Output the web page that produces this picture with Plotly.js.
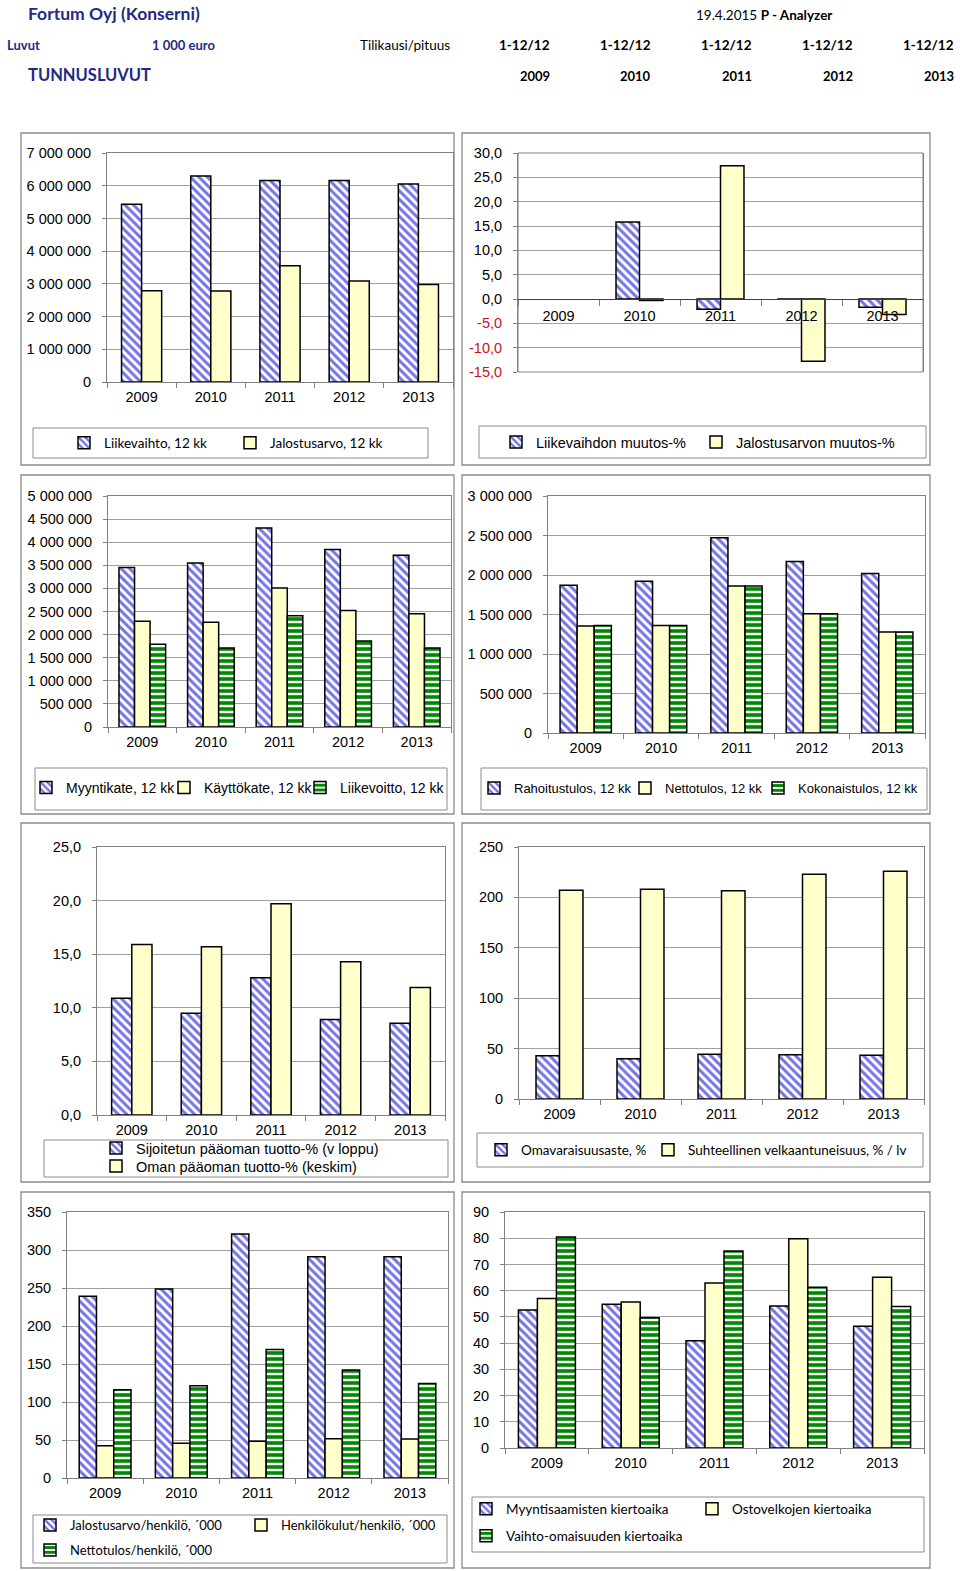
<!DOCTYPE html>
<html>
<head>
<meta charset="utf-8">
<script src="https://cdn.plot.ly/plotly-3.0.1.min.js"></script>
<style>html,body{margin:0;padding:0;background:#fff;}#chart{width:960px;height:1571px;}</style>
</head>
<body>
<div id="chart"></div>
<script>
// ---------------- DATA ----------------
const years = ['2009', '2010', '2011', '2012', '2013'];
const periodLabels = ['1-12/12', '1-12/12', '1-12/12', '1-12/12', '1-12/12'];

const liikevaihto = [5435000, 6296000, 6161000, 6159000, 6056000];
const jalostusarvo = [2790000, 2780000, 3550000, 3090000, 2980000];

const liikevaihtoMuutos = [null, 15.8, -2.1, -0.03, -1.7];
const jalostusarvoMuutos = [null, -0.3, 27.4, -12.8, -3.2];

const myyntikate = [3450000, 3550000, 4310000, 3840000, 3720000];
const kayttokate = [2290000, 2270000, 3010000, 2520000, 2450000];
const liikevoitto = [1790000, 1710000, 2410000, 1860000, 1710000];

const rahoitustulos = [1870000, 1920000, 2470000, 2170000, 2020000];
const nettotulos = [1355000, 1360000, 1860000, 1510000, 1280000];
const kokonaistulos = [1360000, 1360000, 1860000, 1510000, 1280000];

const sijPaaomanTuotto = [10.9, 9.5, 12.8, 8.9, 8.55];
const omanPaaomanTuotto = [15.9, 15.7, 19.7, 14.3, 11.9];

const omavaraisuusaste = [42.9, 39.9, 44.5, 43.9, 43.5];
const suhtVelkaantuneisuus = [207, 208, 206.5, 223, 226];

const jalostusarvoHenkilo = [239, 248.7, 321, 291, 291];
const henkilokulutHenkilo = [42.5, 45.6, 48.2, 51.8, 51.3];
const nettotulosHenkilo = [116, 121.5, 169, 142, 124.5];

const myyntisaamistenKiertoaika = [52.6, 54.8, 40.9, 54.2, 46.4];
const ostovelkojenKiertoaika = [57, 55.7, 62.9, 79.8, 65.1];
const vaihtoOmaisuudenKiertoaika = [80.5, 49.7, 75.1, 61.3, 54];

const p2TickVals = [-15, -10, -5, 0, 5, 10, 15, 20, 25, 30];
const p2TickText = ['-15,0', '-10,0', '-5,0', '0,0', '5,0', '10,0', '15,0', '20,0', '25,0', '30,0'];

// ---------------- STYLE / LAYOUT HELPERS ----------------
const W = 960, H = 1571;
const fx = p => p / W;
const fy = p => 1 - p / H;
const ARIAL = 'Liberation Sans, Arial, sans-serif';
const CALIBRI = 'Lato, Carlito, Calibri, sans-serif';
const NAVY = '#1e2a86';
const GRID = '#a0a0a0';
const AXL = '#808080';
const FRAME = '#8c8c8c';

const STYLES = {
  blue: {color: '#ffffff', pattern: {shape: '\\', fgcolor: '#7474e6', bgcolor: '#ffffff', size: 6, solidity: 0.5, fillmode: 'replace'}},
  yellow: {color: '#ffffcc'},
  green: {color: '#ffffff', pattern: {shape: '-', fgcolor: '#008800', bgcolor: '#ffffff', size: 6, solidity: 0.6, fillmode: 'replace'}}
};

// panels: plot area px, range, tick step, format, series list, legend layout
const panels = [
  {plot: [107, 453, 153, 382], frame: [21, 454, 133, 465], lbox: [33, 428, 428, 458],
   range: [0, 7000000], dtick: 1000000, fmt: ',d', group: 0.58,
   series: [['Liikevaihto, 12 kk', liikevaihto, 'blue'], ['Jalostusarvo, 12 kk', jalostusarvo, 'yellow']],
   leg: {font: CALIBRI, size: 13.5, pos: [[84, 443], [250, 443]]}},
  {plot: [518, 923, 153, 372], frame: [462, 930, 133, 465], lbox: [479, 926, 426, 458],
   range: [-15, 30], dtick: 5, fmt: '.1f', group: 0.58, special: true,
   series: [['Liikevaihdon muutos-%', liikevaihtoMuutos, 'blue'], ['Jalostusarvon muutos-%', jalostusarvoMuutos, 'yellow']],
   leg: {font: ARIAL, size: 14.5, pos: [[516, 442], [716, 442]]}},
  {plot: [108, 451, 496, 727], frame: [21, 454, 475, 814], lbox: [35, 447, 768, 810],
   range: [0, 5000000], dtick: 500000, fmt: ',d', group: 0.68,
   series: [['Myyntikate, 12 kk', myyntikate, 'blue'], ['Käyttökate, 12 kk', kayttokate, 'yellow'], ['Liikevoitto, 12 kk', liikevoitto, 'green']],
   leg: {font: ARIAL, size: 14, pos: [[46, 788], [184, 788], [320, 788]]}},
  {plot: [548, 925, 496, 733], frame: [462, 930, 475, 814], lbox: [481, 927, 768, 810],
   range: [0, 3000000], dtick: 500000, fmt: ',d', group: 0.68,
   series: [['Rahoitustulos, 12 kk', rahoitustulos, 'blue'], ['Nettotulos, 12 kk', nettotulos, 'yellow'], ['Kokonaistulos, 12 kk', kokonaistulos, 'green']],
   leg: {font: ARIAL, size: 13, pos: [[494, 788], [645, 788], [778, 788]]}},
  {plot: [97, 445, 847, 1115], frame: [21, 454, 823, 1182], lbox: [44, 448, 1140, 1177],
   range: [0, 25], dtick: 5, fmt: '.1f', group: 0.58,
   series: [['Sijoitetun pääoman tuotto-% (v loppu)', sijPaaomanTuotto, 'blue'], ['Oman pääoman tuotto-% (keskim)', omanPaaomanTuotto, 'yellow']],
   leg: {font: ARIAL, size: 14.5, pos: [[116, 1148], [116, 1166]]}},
  {plot: [519, 924, 847, 1099], frame: [462, 930, 823, 1182], lbox: [477, 923, 1133, 1167],
   range: [0, 250], dtick: 50, fmt: 'd', group: 0.58,
   series: [['Omavaraisuusaste, %', omavaraisuusaste, 'blue'], ['Suhteellinen velkaantuneisuus, % / lv', suhtVelkaantuneisuus, 'yellow']],
   leg: {font: CALIBRI, size: 13.5, pos: [[501, 1150], [668, 1150]]}},
  {plot: [67, 448, 1212, 1478], frame: [21, 454, 1192, 1568], lbox: [33, 447, 1515, 1563],
   range: [0, 350], dtick: 50, fmt: 'd', group: 0.68,
   series: [['Jalostusarvo/henkilö, ´000', jalostusarvoHenkilo, 'blue'], ['Henkilökulut/henkilö, ´000', henkilokulutHenkilo, 'yellow'], ['Nettotulos/henkilö, ´000', nettotulosHenkilo, 'green']],
   leg: {font: CALIBRI, size: 13, pos: [[50, 1525], [261, 1525], [50, 1550]]}},
  {plot: [505, 924, 1212, 1448], frame: [462, 930, 1192, 1568], lbox: [472, 924, 1497, 1552],
   range: [0, 90], dtick: 10, fmt: 'd', group: 0.68,
   series: [['Myyntisaamisten kiertoaika', myyntisaamistenKiertoaika, 'blue'], ['Ostovelkojen kiertoaika', ostovelkojenKiertoaika, 'yellow'], ['Vaihto-omaisuuden kiertoaika', vaihtoOmaisuudenKiertoaika, 'green']],
   leg: {font: CALIBRI, size: 13.5, pos: [[486, 1509], [712, 1509], [486, 1536]]}}
];

const traces = [];
const layout = {
  width: W, height: H, autosize: false,
  margin: {l: 0, r: 0, t: 0, b: 0},
  paper_bgcolor: '#ffffff', plot_bgcolor: 'rgba(0,0,0,0)',
  separators: ', ',
  showlegend: true,
  barmode: 'group',
  shapes: [], annotations: []
};

let legendCount = 0;
panels.forEach((p, i) => {
  const n = i + 1;
  const sfx = n === 1 ? '' : String(n);
  const xid = 'x' + sfx, yid = 'y' + sfx;
  const [l, r, t, b] = p.plot;
  const tickFont = {family: ARIAL, size: 14.5, color: '#000'};

  const xa = {
    domain: [fx(l), fx(r)], anchor: yid, type: 'category', range: [-0.5, 4.5],
    tickson: 'boundaries', ticks: 'outside', ticklen: 5, tickcolor: AXL, tickwidth: 1,
    showline: true, linecolor: AXL, linewidth: 1, mirror: true, showgrid: false,
    tickfont: tickFont, fixedrange: true, ticklabelstandoff: 2
  };
  const ya = {
    domain: [fy(b), fy(t)], anchor: xid, range: p.range, dtick: p.dtick, tick0: 0,
    tickformat: p.fmt, showgrid: true, gridcolor: GRID, gridwidth: 1, zeroline: false,
    showline: true, mirror: true, linecolor: AXL, linewidth: 1,
    ticks: 'outside', ticklen: 4, tickcolor: AXL, tickfont: tickFont,
    ticklabelstandoff: 8, fixedrange: true
  };
  if (p.special) {
    const frac = (0 - p.range[0]) / (p.range[1] - p.range[0]);
    xa.anchor = 'free';
    xa.position = fy(b) + frac * (fy(t) - fy(b));
    xa.mirror = false;
    xa.linecolor = '#404040';
    xa.ticklen = 6;
    xa.ticklabelstandoff = 4;
    ya.tickmode = 'array';
    ya.tickvals = p2TickVals;
    ya.ticktext = p2TickText.map((s, k) => p2TickVals[k] < 0 ? '<span style="color:#cc1111">' + s + '</span>' : s);
    layout.shapes.push({type: 'rect', xref: xid + ' domain', yref: yid + ' domain', x0: 0, x1: 1, y0: 0, y1: 1,
      line: {color: AXL, width: 1}, layer: 'below'});
  }
  layout['xaxis' + sfx] = xa;
  layout['yaxis' + sfx] = ya;

  // frames
  layout.shapes.push({type: 'rect', xref: 'paper', yref: 'paper',
    x0: fx(p.frame[0]), x1: fx(p.frame[1]), y0: fy(p.frame[3]), y1: fy(p.frame[2]),
    line: {color: FRAME, width: 1.3}, layer: 'below'});
  layout.shapes.push({type: 'rect', xref: 'paper', yref: 'paper',
    x0: fx(p.lbox[0]), x1: fx(p.lbox[1]), y0: fy(p.lbox[3]), y1: fy(p.lbox[2]),
    line: {color: FRAME, width: 1}, layer: 'below'});

  const ns = p.series.length;
  const w = p.group / ns;
  p.series.forEach((s, k) => {
    legendCount += 1;
    const lid = legendCount === 1 ? 'legend' : 'legend' + legendCount;
    const st = STYLES[s[2]];
    traces.push({
      type: 'bar', name: s[0], x: years, y: s[1], xaxis: xid, yaxis: yid,
      width: w, offset: -p.group / 2 + k * w,
      marker: Object.assign({}, st, {line: {color: '#000000', width: 1.5}}),
      legend: lid, showlegend: true, hoverinfo: 'skip', cliponaxis: false
    });
    const pos = p.leg.pos[k];
    layout[lid] = {
      x: fx(pos[0] - 20), y: fy(pos[1]), xanchor: 'left', yanchor: 'middle',
      orientation: 'h', bgcolor: 'rgba(0,0,0,0)', borderwidth: 0,
      font: {family: p.leg.font, size: p.leg.size, color: '#000'},
      itemclick: false, itemdoubleclick: false
    };
  });
});

// header
const hdr = (text, x, y, anchor, size, color, family) => layout.annotations.push({
  text: text, x: fx(x), y: fy(y), xref: 'paper', yref: 'paper', xanchor: anchor, yanchor: 'middle',
  showarrow: false, font: {family: family || CALIBRI, size: size, color: color}
});
hdr('<b>Fortum Oyj (Konserni)</b>', 26, 14, 'left', 17.5, NAVY);
hdr('19.4.2015 <b>P - Analyzer</b>', 694, 15, 'left', 13.5, '#000');
hdr('<b>Luvut</b>', 5, 45, 'left', 13, NAVY);
hdr('<b>1 000 euro</b>', 150, 45, 'left', 13, NAVY);
hdr('Tilikausi/pituus', 358, 45, 'left', 13.5, '#000');
hdr('<b>TUNNUSLUVUT</b>', 26, 75, 'left', 16.5, NAVY);
const colRight = [552, 653, 754, 855, 956];
periodLabels.forEach((t, k) => hdr('<b>' + t + '</b>', colRight[k], 45, 'right', 13.5, '#000'));
years.forEach((t, k) => hdr('<b>' + t + '</b>', colRight[k], 76, 'right', 13, '#000'));

Plotly.newPlot('chart', traces, layout, {displayModeBar: false, staticPlot: true});
</script>
</body>
</html>
